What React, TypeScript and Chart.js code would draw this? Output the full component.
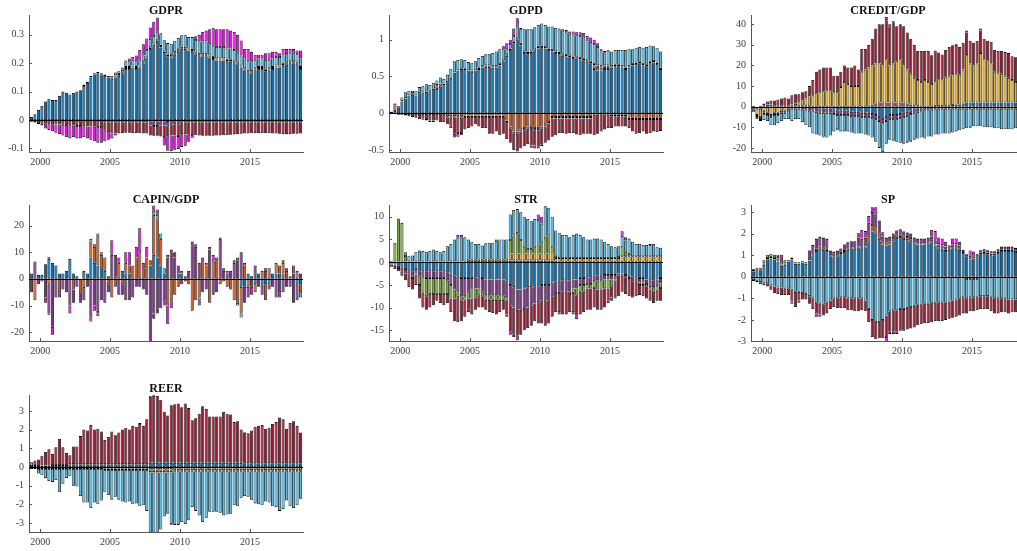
import React, { useEffect, useRef } from "react";
import { Chart, registerables } from "chart.js";

Chart.register(...registerables);

const SERIF = '"Liberation Serif", "Times New Roman", "DejaVu Serif", serif';
const AXIS_GREY = "#555555";
const TICK_TEXT = "#404040";
const SHOCK_COLORS = ["#0072BD", "#D95319", "#EDB120", "#7E2F8E", "#77AC30", "#4DBEEE", "#A2142F", "#FF00FF"];

const FIRST_QUARTER = 1999.375;
const QUARTER_STEP = 0.25;
const N_QUARTERS = 78;
const QUARTER_X = Array.from({ length: N_QUARTERS }, (_, i) => FIRST_QUARTER + QUARTER_STEP * i);
const X_MIN = 1999.2;
const X_MAX = 2018.8;
const YEAR_TICKS = [2000, 2005, 2010, 2015];

// ---------------- GDPR ----------------
const GDPR_TICKS = [-0.1, 0, 0.1, 0.2, 0.3];
const GDPR_C1 = [
  0.01, 0.02, 0.035, 0.05, 0.065, 0.075, 0.07, 0.07, 0.085, 0.1,
  0.095, 0.09, 0.095, 0.1, 0.105, 0.12, 0.13, 0.15, 0.16, 0.165,
  0.16, 0.155, 0.15, 0.145, 0.15, 0.155, 0.165, 0.18, 0.18, 0.185,
  0.18, 0.185, 0.2, 0.22, 0.25, 0.26, 0.275, 0.255, 0.235, 0.225,
  0.22, 0.23, 0.24, 0.25, 0.25, 0.245, 0.24, 0.23, 0.225, 0.225,
  0.225, 0.22, 0.215, 0.21, 0.21, 0.21, 0.205, 0.205, 0.2, 0.195,
  0.185, 0.175, 0.165, 0.165, 0.175, 0.18, 0.18, 0.17, 0.175, 0.18,
  0.185, 0.185, 0.19, 0.195, 0.2, 0.2, 0.195, 0.18];
const GDPR_C2 = [
  0, 0, 0, 0, 0, 0, 0, 0, 0, 0,
  0, 0, 0, 0, 0, 0, 0, 0, 0, 0,
  0, 0, 0, 0, 0.003, 0.003, 0.003, 0.003, 0.003, 0.003,
  0.003, 0.003, 0.003, 0.003, -0.005, -0.006, -0.006, -0.005, -0.005, -0.004,
  0.003, 0.003, 0.003, 0.003, 0.003, 0.003, 0.003, 0.003, 0.003, 0.003,
  0.003, 0.003, 0.003, 0.003, 0.003, 0.003, 0.003, 0.003, 0.003, 0.003,
  0.003, 0.003, 0.003, 0.003, 0.003, 0.003, 0.003, 0.003, 0.003, 0.003,
  0.003, 0.003, 0.003, 0.003, 0.003, 0.003, 0.003, 0.003];
const GDPR_C3 = [
  0, 0, 0, 0, 0, 0, 0, 0, 0, 0,
  0, 0, 0, 0, 0, 0, 0, 0, 0, 0,
  0, 0, 0, 0, 0.004, 0.004, 0.004, 0.004, 0.004, 0.004,
  0.004, 0.004, 0.004, 0.004, 0.006, 0.006, 0.006, 0.006, 0.006, 0.006,
  0.006, 0.006, 0.006, 0.006, 0.006, 0.004, 0.004, 0.004, 0.004, 0.004,
  0.004, 0.004, 0.004, 0.004, 0.004, 0.004, 0.004, 0.004, 0.004, 0.004,
  0.004, 0.004, 0.004, 0.004, 0.004, 0.004, 0.004, 0.004, 0.004, 0.004,
  0.004, 0.004, 0.004, 0.004, 0.004, 0.004, 0.004, 0.004];
const GDPR_C4 = [
  -0.003, -0.003, -0.003, -0.003, -0.003, -0.003, -0.003, -0.003, -0.003, -0.003,
  -0.003, -0.003, -0.003, -0.003, -0.003, -0.003, -0.003, -0.003, -0.003, -0.003,
  -0.003, -0.008, -0.008, -0.008, -0.008, -0.008, -0.008, -0.008, -0.008, -0.008,
  -0.008, -0.008, -0.008, -0.008, -0.015, -0.015, -0.015, -0.015, -0.015, -0.015,
  -0.015, -0.015, -0.015, -0.008, -0.008, -0.008, -0.008, -0.008, -0.008, -0.008,
  -0.008, -0.008, -0.008, -0.008, -0.008, -0.008, -0.008, -0.008, -0.008, -0.008,
  -0.008, -0.008, -0.008, -0.008, -0.008, -0.008, -0.008, -0.008, -0.008, -0.008,
  -0.008, -0.008, -0.008, -0.008, -0.008, -0.008, -0.008, -0.008];
const GDPR_C6 = [
  0, 0, 0, 0, 0, 0, 0, 0, 0, 0,
  0, 0, 0, 0, 0, 0.005, 0.005, 0.005, 0.005, 0.005,
  0.005, 0.005, 0.005, 0.01, 0.01, 0.01, 0.01, 0.02, 0.02, 0.02,
  0.02, 0.02, 0.02, 0.02, 0.03, 0.03, 0.03, 0.04, 0.04, 0.04,
  0.04, 0.04, 0.04, 0.04, 0.04, 0.04, 0.045, 0.045, 0.045, 0.045,
  0.045, 0.04, 0.04, 0.04, 0.04, 0.04, 0.04, 0.04, 0.04, 0.035,
  0.035, 0.035, 0.035, 0.035, 0.03, 0.03, 0.03, 0.03, 0.03, 0.03,
  0.03, 0.03, 0.03, 0.03, 0.03, 0.03, 0.03, 0.03];
const GDPR_C7 = [
  -0.003, -0.005, -0.008, -0.01, -0.01, -0.012, -0.012, -0.013, -0.013, -0.014,
  -0.015, -0.016, -0.017, -0.018, -0.018, -0.019, -0.02, -0.02, -0.021, -0.022,
  -0.022, -0.03, -0.035, -0.04, -0.04, -0.04, -0.038, -0.037, -0.037, -0.038,
  -0.038, -0.039, -0.04, -0.04, -0.035, -0.035, -0.035, -0.038, -0.04, -0.04,
  -0.04, -0.04, -0.042, -0.042, -0.043, -0.044, -0.045, -0.046, -0.047, -0.048,
  -0.048, -0.048, -0.048, -0.047, -0.047, -0.046, -0.045, -0.044, -0.043, -0.042,
  -0.041, -0.04, -0.04, -0.039, -0.038, -0.038, -0.038, -0.038, -0.039, -0.04,
  -0.04, -0.041, -0.042, -0.042, -0.042, -0.041, -0.041, -0.04];
const GDPR_C8 = [
  0, -0.002, -0.004, -0.007, -0.017, -0.02, -0.025, -0.029, -0.034, -0.038,
  -0.042, -0.046, -0.04, -0.044, -0.044, -0.038, -0.042, -0.047, -0.051, -0.055,
  -0.055, -0.037, -0.027, -0.017, -0.007, 0, 0.003, 0.003, 0.01, 0.01,
  0.02, 0.035, 0.04, 0.04, 0.04, 0.05, 0.05, 0.005, -0.03, -0.05,
  -0.055, -0.05, -0.045, -0.045, -0.04, -0.025, -0.01, 0.013, 0.023, 0.033,
  0.038, 0.053, 0.063, 0.063, 0.063, 0.063, 0.068, 0.063, 0.063, 0.063,
  0.053, 0.033, 0.043, 0.033, 0.018, 0.013, 0.013, 0.028, 0.023, 0.023,
  0.018, 0.013, 0.023, 0.018, 0.013, 0.013, 0.013, 0.028];

// ---------------- GDPD ----------------
const GDPD_TICKS = [-0.5, 0, 0.5, 1];
const GDPD_C1 = [
  0.02, 0.03, 0.08, 0.16, 0.2, 0.24, 0.25, 0.24, 0.27, 0.28,
  0.29, 0.3, 0.33, 0.33, 0.36, 0.38, 0.42, 0.48, 0.55, 0.58,
  0.6, 0.6, 0.58, 0.56, 0.58, 0.6, 0.62, 0.63, 0.63, 0.62,
  0.62, 0.65, 0.7, 0.78, 0.86, 0.95, 1.0, 0.92, 0.82, 0.8,
  0.82, 0.85, 0.88, 0.9, 0.88, 0.86, 0.84, 0.82, 0.8, 0.78,
  0.77, 0.76, 0.75, 0.74, 0.73, 0.72, 0.7, 0.68, 0.6, 0.58,
  0.58, 0.6, 0.6, 0.62, 0.64, 0.64, 0.62, 0.6, 0.62, 0.65,
  0.67, 0.68, 0.65, 0.64, 0.68, 0.69, 0.67, 0.6];
const GDPD_C2 = [
  0, 0.1, 0, 0, 0, 0, 0.02, 0, 0, 0,
  0, 0, 0, 0.05, 0.04, 0, -0.04, -0.04, -0.04, -0.04,
  -0.04, -0.03, -0.03, -0.03, -0.03, -0.03, -0.03, -0.03, -0.03, -0.03,
  -0.03, -0.03, -0.03, -0.1, -0.18, -0.25, -0.25, -0.22, -0.2, -0.18,
  -0.17, -0.2, -0.2, -0.18, -0.15, -0.12, -0.05, -0.05, -0.05, -0.05,
  -0.05, -0.05, -0.05, -0.05, -0.05, -0.05, -0.05, -0.05, 0.05, 0.05,
  0.04, 0.03, 0.03, -0.02, -0.02, -0.02, -0.02, -0.02, -0.06, -0.06,
  -0.06, -0.06, -0.06, -0.06, -0.06, -0.06, -0.06, -0.06];
const GDPD_C3 = [
  0.005, 0.005, 0.005, 0.005, 0.005, 0.005, 0.005, 0.005, 0.005, 0.005,
  0.005, 0.005, 0.005, 0.005, 0.005, 0.005, 0.005, 0.005, 0.005, 0.005,
  0.005, 0.005, 0.005, 0.005, 0.005, 0.02, 0.02, 0.02, 0.02, 0.02,
  0.02, 0.02, 0.02, 0.02, 0.02, 0.02, 0.02, 0.02, 0.02, 0.02,
  0.02, 0.02, 0.02, 0.02, 0.02, 0.02, 0.02, 0.02, 0.02, 0.02,
  0.02, 0.02, 0.02, 0.02, 0.02, 0.02, 0.02, 0.02, 0.02, 0.02,
  0.02, 0.02, 0.02, 0.02, 0.02, 0.02, 0.02, 0.02, 0.02, 0.02,
  0.02, 0.02, 0.02, 0.02, 0.02, 0.02, 0.02, 0.02];
const GDPD_C4 = [
  -0.01, -0.01, -0.01, -0.01, -0.01, -0.01, -0.01, -0.01, -0.01, -0.01,
  -0.01, -0.01, -0.01, -0.01, -0.01, -0.01, -0.02, -0.02, -0.02, -0.02,
  -0.02, -0.02, -0.02, -0.02, -0.02, -0.02, -0.02, -0.02, -0.02, -0.02,
  -0.02, -0.02, -0.02, -0.02, -0.03, -0.03, -0.03, -0.03, -0.03, -0.03,
  -0.03, -0.03, -0.03, -0.03, -0.03, -0.02, -0.02, -0.02, -0.02, -0.02,
  -0.02, -0.02, -0.02, -0.02, -0.02, -0.02, -0.02, -0.02, -0.02, -0.02,
  -0.02, -0.02, -0.02, -0.02, -0.02, -0.02, -0.02, -0.02, -0.02, -0.02,
  -0.02, -0.02, -0.02, -0.02, -0.02, -0.02, -0.02, -0.02];
const GDPD_C6 = [
  0, 0, 0.01, 0.05, 0.08, 0.06, 0.03, 0.06, 0.08, 0.08,
  0.1, 0.08, 0.08, 0.06, 0.08, 0.08, 0.1, 0.12, 0.15, 0.14,
  0.13, 0.12, 0.11, 0.12, 0.12, 0.13, 0.14, 0.15, 0.16, 0.18,
  0.2, 0.2, 0.15, 0.07, 0.06, 0.08, 0.17, 0.2, 0.3, 0.32,
  0.3, 0.3, 0.3, 0.3, 0.3, 0.3, 0.32, 0.32, 0.32, 0.32,
  0.31, 0.3, 0.3, 0.3, 0.3, 0.3, 0.28, 0.27, 0.27, 0.25,
  0.2, 0.18, 0.2, 0.2, 0.2, 0.2, 0.22, 0.24, 0.23, 0.2,
  0.2, 0.2, 0.22, 0.24, 0.22, 0.2, 0.2, 0.22];
const GDPD_C7 = [
  0, 0, -0.01, -0.01, -0.02, -0.03, -0.04, -0.05, -0.07, -0.06,
  -0.07, -0.09, -0.09, -0.09, -0.11, -0.11, -0.09, -0.11, -0.22, -0.21,
  -0.21, -0.17, -0.15, -0.13, -0.1, -0.13, -0.15, -0.15, -0.23, -0.23,
  -0.2, -0.25, -0.23, -0.23, -0.19, -0.22, -0.24, -0.23, -0.22, -0.21,
  -0.24, -0.21, -0.22, -0.22, -0.22, -0.23, -0.25, -0.23, -0.2, -0.2,
  -0.21, -0.2, -0.2, -0.22, -0.23, -0.21, -0.21, -0.21, -0.28, -0.26,
  -0.23, -0.2, -0.18, -0.16, -0.14, -0.14, -0.14, -0.14, -0.12, -0.17,
  -0.2, -0.19, -0.17, -0.2, -0.19, -0.17, -0.18, -0.16];
const GDPD_C8 = [
  0, 0, 0, 0, 0, 0, 0, 0, 0, -0.02,
  -0.02, -0.02, -0.02, 0, 0, 0, 0, -0.03, -0.05, -0.05,
  -0.03, 0, 0, 0, 0, 0, 0, 0, 0, 0,
  0, 0, 0.04, 0.08, 0.06, 0.1, 0.1, 0.02, 0, 0,
  -0.03, -0.04, -0.03, -0.02, 0, 0, 0, 0, 0.01, 0.02,
  0.03, 0.03, 0.04, 0.04, 0.05, 0.05, 0.05, 0.06, 0.06, 0.05,
  0.03, 0.02, 0.01, 0, 0, 0, 0, 0, 0, 0,
  0, 0, 0, 0, 0, 0, 0, 0];

// ---------------- CREDIT/GDP ----------------
const CREDIT_TICKS = [-20, -10, 0, 10, 20, 30, 40];
const CREDIT_C1 = [
  0.5, -1, -1, 0.5, 1, 1, 0.5, 0.5, 0.5, 0.5,
  0.5, 0.5, 0.5, 0.5, 0.5, 0.5, 0.5, 0, -0.5, -1,
  -1, -1, -1, -1.5, -2, -2, -2, -2, -2.5, -2.5,
  -2.5, -3, -3, -3, -3.5, -4, -5, -6, -5, -4,
  -4, -4, -3.5, -3, -2.5, -2, -1.5, -1, -1, -0.5,
  -0.5, -0.5, 0.3, 0.3, 0.3, 0.5, 0.5, 0.8, 1, 1,
  1.5, 2, 2, 2, 2, 2, 2, 2, 2, 2,
  2, 2, 2, 2, 2, 2, 2, 2];
const CREDIT_C2 = [
  0, 0, 0, 0, 0, 0, 0, 0, 0, 0,
  0, 0, 0, 0, 0, 0, 0, 0, 0, 0,
  0, 0, 0, 0, 0, 0, 0, 0, 0, 0,
  0, 0, 0, 0, 1, 1.5, 2, 2, 2, 2,
  2, 2, 2, 2, 1.5, 1, 0.5, 0.5, 0, 0,
  0, 0, 0, 0, 0, 0, 0, 0, 0, 0,
  0, 0, 0, 0, 0, 0, 0, 0, 0, 0,
  0, 0, 0, 0, 0, 0, 0, 0];
const CREDIT_C3 = [
  -1, -3, -4, -2, -3, -4, -3, -3, -2, -2,
  -1, 0.5, 1, 1.5, 2.5, 3.5, 4.5, 5.5, 6.5, 7,
  7.5, 8, 8, 7, 7, 9.5, 12, 11, 10, 10,
  10, 17, 18, 19, 19, 19.5, 19, 18, 21, 18,
  19, 20, 21, 18, 16.5, 15, 13.5, 12.5, 12, 13,
  12, 11, 12, 13, 13, 14, 14.5, 15, 15, 14.5,
  16.5, 23, 19, 18, 19, 24, 21, 20.5, 19, 15,
  14.5, 14, 13, 12, 11, 10, 11, 12];
const CREDIT_C4 = [
  -0.5, -0.5, -1, -1, -1, -1, -1, -1, -1, -1,
  -1, -1, -1, -1, -1.5, -1.5, -2, -2, -2, -2,
  -2, -2, -2, -2, -2, -2, -2, -2, -2, -2,
  -2, -2, -2, -2, -2, -2, -2, -2, -2, -2,
  -2, -2, -2, -2, -2, -1.5, -1.5, -1.5, -1, -1,
  -1, -1, -1, -1, -1, -1, -1, -1, -1, -1,
  -1, -1, -1, -1, -1, -1, -1, -1, -1, -1,
  -1, -1, -1, -1, -1, -1, -1, -1];
const CREDIT_C5 = [
  0, -0.5, -0.5, -0.5, 0, 0, 0, 0, 0, 0,
  0, 0, 0, 0, 0, 0, 0, 0, 0, 0,
  0, 0, 0, 0, 0, 0, 0, 0, 0, 0,
  0, 0, 0, 0, 0, 0, 0, 0, 0, 0,
  0, 0, 0, 0, 0, 0, 0, 0, 0, 0,
  0, 0, 0, 0, 0, 0, 0, 0, 0, 0,
  0, 0, 0, 0, 0, 0, 0, 0, 0, 0,
  0, 0, 0, 0, 0, 0, 0, 0];
const CREDIT_C6 = [
  -1, -1, -0.5, -3, -3, -4, -5, -4, -4, -3,
  -4, -6, -5, -5, -6, -7.5, -8, -11, -11, -11,
  -11.5, -12, -11, -8.5, -7, -8, -8, -8, -8, -8.5,
  -8.5, -8, -8.5, -9, -9.5, -11, -13, -14, -11, -10,
  -10.5, -11, -12, -13, -12.5, -13, -13, -13, -13, -13.5,
  -13, -13, -12.5, -12.5, -12, -12, -12, -11.5, -11, -10.5,
  -10, -9.5, -9, -8.5, -8.5, -8.5, -9, -9, -9, -9.5,
  -9.5, -10, -10, -10, -10, -9.5, -9, -9];
const CREDIT_C7 = [
  0, 0, 0.5, 1, 1.5, 2, 2.5, 3, 3.5, 4,
  3.5, 4.5, 4.5, 4, 4, 3.5, 5, 7.5, 10.5, 11,
  11.5, 11, 11, 8, 8, 7.5, 8, 8, 9, 10,
  8, 11, 10, 11, 13, 17, 19, 20, 19, 19,
  20, 17, 17, 19, 18, 17, 16, 14, 15, 14,
  15, 14, 15, 13, 12, 13, 14, 14, 14, 13.5,
  13, 11, 11, 11, 11, 11, 10, 9.5, 10.5, 10.5,
  10.5, 11, 11.5, 12, 11.5, 12, 11, 10];
const CREDIT_C8 = [
  0, 0, 0, 0, 0, 0, 0, 0, 0, 0,
  0, 0, 0, 0, 0, 0, 0, 0, 0, 0,
  -0.5, 0, 0, 0, -0.5, 0, 0, 0, 0, 0,
  0, 0, 0, 0, 0, 0, 0, 0, 1.5, 1,
  0.5, 0, 0, 0, -0.5, -0.5, 0, 0, 0, -0.5,
  0, 0, 0, 0, 0, 0, 0, 0, 0.5, 0,
  0, 1, -0.5, 0, 0, 1, 0, 0, 0, 0,
  0, 0, 0, 0, 0, 0, 0, 0];

// ---------------- CAPIN/GDP ----------------
const CAPIN_TICKS = [-20, -10, 0, 10, 20];
const CAPIN_C1 = [
  2, 0, 1.5, 1.5, 5.5, 7.5, 6, 5, 2, 2,
  3, 7.5, 2, 1, 0, 3, 2, 8, 6, 5,
  4, 3, 1, 0, 1, 0, 3, 2, 2, 0,
  0, 0, 0, 0, 5, 9, 8, 5, 2, 0,
  0, 0, 2, 2, 1, 0, 0, 0, 0, 0,
  0, 0, 0, 0, 0, 0, 0, 0, 0, 0,
  -3, -3, 2, 1, -2, 2, -2, -2, -2, 2,
  2, 2, 2, 0, 1, 2, -2, -2];
const CAPIN_C2 = [
  0, -8, 0, 0, 0, -2, 0, 0, -5, 0,
  0, 0, -4, 0, -5, -3, 0, 6, 6, 11,
  5, 5, -2, -7, -3, 6, -2, 4, 3, 5,
  8, 10, 4, 8, 2, 15, 14, 10, 0, -10,
  -8, -6, -3, 1, 0, -2, -12, -8, -7, 7,
  5, -9, 7, 7, -2, -1, -3, -4, -8, -9,
  -10, 5, -3, 0, -3, 0, 3, -6, 4, 0,
  4, 3, 4, 3, 0, 3, 2, -3];
const CAPIN_C4 = [
  -5, 6.5, -2, -1, -7, -11, -18, -7, 0, -4,
  -5, -10, -5, -3, -4, -5, -3, -14, -10, -12,
  -8, -9, -3, 9, 8, -6, -4, -8, -8, -7,
  -3, -3, -4, -6, -24, -13, -11, -11, -8, 8,
  10, 8, 3, -2, -1, 3, 13, 12, 6, -5,
  -4, 11, -6, -5, 15, 3, 2, 3, 6, 7,
  10, -6, -4, -3, 4, -3, -4, 3, -2, -3,
  -7, -5, -5, -3, -3, -9, -6, 2];
const CAPIN_C6 = [
  0, 0, 0, 0, 0, 0.8, 0, 0, 0, 0,
  0, 0, 0, 0, 0, 0, 0, 1, 1, 1,
  0.5, 0, 0, 0, 0, 0, 0, 0, 0, 0,
  0, 0, 0, 0, 0, 1.5, 2, 2, 2, 0,
  0, 0, 0, 0, 0, 0, 0, 0, -1, 0,
  0, 0, 0, 0, 0, 0, 0, 0, 0, -1,
  -1.5, 0, 0, 0, 0, 0, 0, 0, 0, 0,
  0, 0, 0, 0, 0, 0, 0, -2];
const CAPIN_C7 = [
  0, 0, 0, 0, 0, -0.5, 0, 0, 0, 0,
  0, 0, 0, 0, 0, 0, 0, 0, 0, -1,
  0, 0, 0, 0, 0, 0, 0, 0, 0, 0,
  0, 0, 0, 0, 0, -2, -2, 0, 0, 1,
  1, 2, 0, 0, 0, 0, 1, 0, 0, 0,
  0, 1, 0, 0, 0.5, 0, 0, 0, 0, 0,
  0, 0, 0, 0, 0, 0, 0, 0, 0, 0,
  0, 0, 0, 0, 0, 0, 0, 0];
const CAPIN_C8 = [
  0, 0, 0, 0, -2, 0, -3, 0, -2, 0,
  0, -3, 0, 0, 0, 0, 0, -2, -2, -1,
  0.5, 0, 0, 5.5, 0, 2, 0, 4, 5, 0,
  4, 9, 2, 4, 0, 2, 2, 0, -2, -7,
  -3, 0, 0, 0, 0, 0, 0, 1, -2, 1,
  1, 0, 2, 1, 0, 1, 1, 0, 1, 1,
  0, 1, 0, -3, 1, 0, 0, 1, 0, 0,
  0, -2, 1, 1, 0, 0, 1, 0];

// ---------------- STR ----------------
const STR_TICKS = [-15, -10, -5, 0, 5, 10];
const STR_C1 = [
  -0.3, -0.5, -0.8, -1.2, -1.5, -2, -2, -1.5, -2, -2,
  -2, -2, -2, -2, -2, -2, -2.2, -2.5, -3, -3.2,
  -3.5, -3.5, -3.5, -3.5, -3.3, -3.3, -3.5, -3.8, -3.8, -3.8,
  -3.8, -3.8, -3.8, -4, -5, -5.5, -6, -6, -5.8, -5.5,
  -5.5, -5.3, -5.3, -5, -5, -5, -4.5, -4.3, -4.3, -4,
  -4, -4, -3.8, -3.8, -3.5, -3.5, -3.3, -3.3, -3.2, -3,
  -3, -2.8, -2.8, -2.8, -2.8, -2.5, -2.5, -2.8, -3, -3.2,
  -3.3, -3.5, -3.5, -3.8, -4, -4, -3.8, -3.5];
const STR_C2 = [
  0.05, 0.05, 0.05, 0.05, 0.05, 0.05, 0.05, 0.05, 0.05, 0.05,
  0.05, 0.05, 0.05, 0.05, 0.05, 0.05, 0.05, 0.05, 0.05, 0.05,
  0.05, 0.05, 0.05, 0.05, 0.05, 0.05, 0.05, 0.05, 0.05, 0.05,
  0.05, 0.05, 0.05, 0.05, 0.4, 0.4, 0.4, 0.4, 0.4, 0.4,
  0.4, 0.4, 0.4, 0.4, 0.4, 0.4, 0.4, 0.1, 0.1, 0.1,
  0.1, 0.1, 0.1, 0.1, 0.1, 0.1, 0.1, 0.1, 0.1, 0.1,
  0.1, 0.1, 0.1, 0.1, 0.1, 0.1, 0.1, 0.1, 0.1, 0.1,
  0.1, 0.1, 0.1, 0.1, 0.1, 0.1, 0.1, 0.1];
const STR_C3 = [
  0.1, 0.1, 0.1, 0.1, 0.1, 0.1, 0.1, 0.1, 0.1, 0.1,
  0.1, 0.1, 0.1, 0.1, 0.1, 0.1, 0.1, 0.1, 0.1, 0.1,
  0.1, 0.1, 0.5, 0.5, 0.5, 0.5, 0.5, 0.5, 0.5, 0.5,
  0.5, 0.5, 0.5, 0.5, 1.5, 1.5, 1.5, 1.5, 1.5, 1.5,
  1.5, 1.5, 1.5, 1.5, 1.5, 1.5, 1.5, 0.8, 0.8, 0.8,
  0.8, 0.8, 0.8, 0.8, 0.8, 0.8, 0.8, 0.8, 0.8, 0.8,
  0.8, 0.8, 0.8, 0.8, 0.8, 0.8, 1.2, 1.2, 1.2, 1.2,
  1.2, 1.2, 1.2, 1.2, 1.2, 1.2, 1.2, 1.2];
const STR_C4 = [
  -0.2, -0.3, -0.5, -0.8, -1, -1, -1, -1, -1, -1.2,
  -1.5, -1.5, -1.5, -1.5, -1.5, -1.5, -1.8, -2.5, -3, -3.5,
  -4, -4, -3, -2.5, -2.5, -2.5, -3, -3.5, -3.5, -3.5,
  -3.5, -3.5, -3.5, -4, -4.5, -4.5, -4.5, -4.5, -4.5, -4.5,
  -4, -3.8, -3.5, -3.5, -3.5, -3.5, -3, -2.5, -2.5, -2.5,
  -2.5, -2.5, -2, -2, -1.5, -1.5, -1.5, -1.5, -1, -1,
  -1, -1, -1, -1, -1, -0.5, -0.5, -0.5, -0.5, -1,
  -1, -1, -1, -1, -1.5, -1.5, -1.5, -1.2];
const STR_C5 = [
  0, 4, 9.3, 8.5, 1.2, 0, -0.5, -0.5, -2, -3.5,
  -4, -3.5, -3.5, -3.5, -3.5, -3.5, -3, -3, -2, -1,
  -1, -1, -1.5, -2, -2, -1.5, -1, -1, -1, -1,
  -1, -1, -1, -0.5, 3, 4, 4.5, 3, 1.5, 1,
  1, 1.5, 2, 2.5, 3.5, 4, 1.5, 0.5, 0, 0,
  0, -0.5, -1, -1.5, -1.5, -1.5, -1, -1, -1.5, -2,
  -2, -2, -2, -1.5, -0.5, 0.5, 2, 1, 0.5, 0,
  0, -0.5, -0.5, -0.5, -0.5, -1, -1, -1];
const STR_C6 = [
  0.15, 0.15, 0.15, 0.05, 0.85, 1.15, 1.35, 2.05, 2.15, 2.35,
  2.15, 2.35, 2.65, 2.35, 1.75, 2.35, 3.35, 3.85, 4.85, 5.25,
  5.35, 5.35, 4.45, 3.95, 3.45, 3.45, 3.15, 3.65, 3.75, 3.75,
  4.15, 4.45, 4.45, 4.45, 5.6, 5.6, 5.3, 6.1, 6.6, 6.6,
  6.1, 6.1, 5.4, 4.1, 6.9, 6.1, 6.6, 5.6, 5.6, 5.1,
  5.1, 4.6, 5.1, 5.4, 5.1, 4.6, 4.1, 4.1, 4.3, 4.3,
  4.1, 3.6, 3.1, 2.6, 2.4, 2.1, 2.5, 2.5, 3.4, 3.2,
  2.7, 2.7, 2.5, 2.5, 2.5, 2.7, 2.0, 1.9];
const STR_C7 = [
  -0.5, -0.7, -0.7, -1, -1.5, -2.5, -2.5, -2, -3, -3.3,
  -3, -3, -2.5, -1.5, -2, -2.5, -2, -3, -5, -5.5,
  -4.5, -3.5, -2.5, -3.5, -2.7, -2.7, -2.5, -2.2, -2.7, -2.9,
  -3.2, -2.7, -2.2, -3, -5.7, -6, -5.7, -5.5, -4.7, -4.5,
  -4.5, -3.9, -4.7, -5, -5.5, -5, -4.5, -4.2, -4.2, -5,
  -5, -4, -4.2, -4.4, -5, -4.5, -4.7, -4.7, -4.3, -4.5,
  -4.5, -4.2, -2.7, -2.5, -3.7, -4.5, -3.5, -3.7, -4, -3.6,
  -3.2, -2.2, -2.5, -2.7, -2.5, -2.5, -2.2, -2.8];
const STR_C8 = [
  0, 0, 0, 0, 0, 0, 0, 0, 0.3, 0,
  0, 0, 0, 0, 0.3, 0, 0, 0, 0, 0.6,
  0.5, 0, -0.5, 0, 0, 0, 0, 0, 0, 0,
  0.3, 0, 0, -0.5, -0.8, -0.5, -1, 0, 0, 0,
  0, 0, 1.2, 1.5, 0, 0, 0, 0, -0.5, 0,
  0, 0, -0.5, -0.8, 0, 0, 0, 0, 0, 0,
  0, 0, -0.5, -0.7, 0, 0, 1, 0.7, 0, 0,
  0, 0, 0, 0, 0.2, 0, 0, 0];

// ---------------- SP ----------------
const SP_TICKS = [-3, -2, -1, 0, 1, 2, 3];
const SP_C1 = [
  0.25, 0.3, 0.3, 0.55, 0.8, 0.85, 0.8, 0.7, 0.5, 0.55,
  0.7, 0.8, 0.6, 0.6, 0.65, 0.6, 0.75, 1.0, 1.2, 1.3,
  1.25, 1.2, 0.95, 0.9, 0.95, 1.05, 1.15, 1.25, 1.3, 1.3,
  1.35, 1.3, 1.35, 1.6, 2.1, 2.0, 1.7, 1.5, 1.45, 1.5,
  1.65, 1.8, 1.85, 1.75, 1.7, 1.65, 1.55, 1.5, 1.5, 1.5,
  1.55, 1.6, 1.45, 1.3, 1.25, 1.2, 1.25, 1.3, 1.3, 1.25,
  1.1, 0.95, 0.8, 0.85, 0.95, 1.05, 1.1, 1.05, 1.0, 1.0,
  1.1, 1.2, 1.2, 1.2, 1.2, 1.15, 1.1, 1.15];
const SP_C2 = [
  0.02, 0.02, 0.02, 0.02, 0.02, 0.02, 0.02, 0.02, 0.02, 0.02,
  0.02, 0.02, 0.02, 0.02, 0.02, 0.02, 0.02, 0.02, 0.1, 0.1,
  0.1, 0.1, 0.05, 0.05, 0.05, 0.05, 0.05, 0.05, 0.05, 0.05,
  0.05, 0.05, 0.05, 0.3, 0.3, 0.3, 0.3, 0.15, 0.15, 0.15,
  0.15, 0.15, 0.15, 0.15, 0.15, 0.15, 0.05, 0.05, 0.05, 0.05,
  0.05, 0.05, 0.05, 0.05, 0.05, 0.05, 0.05, 0.05, 0.05, 0.05,
  0.05, -0.1, -0.1, -0.1, -0.1, 0.08, 0.08, 0.08, 0.08, 0.08,
  0.08, 0.08, 0.08, 0.08, 0.08, 0.08, 0.08, 0.08];
const SP_C4 = [
  0.05, 0.05, 0.05, 0.05, 0.05, 0.05, 0.05, 0.05, 0.05, 0.05,
  0.05, 0.05, 0.05, 0.05, 0.05, 0.05, 0.45, 0.45, 0.45, 0.45,
  0.45, 0.45, 0.2, 0.2, 0.2, 0.2, 0.3, 0.3, 0.3, 0.3,
  0.4, 0.4, 0.4, 0.6, 0.6, 0.6, 0.6, 0.2, 0.2, 0.2,
  0.2, 0.2, 0.2, 0.2, 0.2, 0.2, 0.2, 0.2, 0.2, 0.2,
  0.2, 0.2, 0.2, 0.15, 0.15, 0.15, 0.15, 0.15, 0.15, 0.15,
  0.1, 0.1, 0.1, 0.1, 0.1, 0.1, 0.1, 0.1, 0.1, 0.1,
  0.1, 0.1, 0.1, 0.1, 0.1, 0.1, 0.1, 0.1];
const SP_C5 = [
  0.05, 0.05, 0.05, 0.15, 0.15, 0.15, 0.15, 0.15, 0.15, 0.15,
  0.02, 0.02, 0.02, 0.02, 0.02, 0.02, 0.02, 0.02, 0.02, 0.02,
  0.02, 0.02, 0.02, 0.02, 0.02, 0.02, 0.02, 0.02, 0.02, 0.02,
  0.02, 0.02, 0.02, 0.02, 0.02, 0.02, 0.02, 0.02, 0.02, 0.02,
  0.02, 0.02, 0.02, 0.02, 0.02, 0.02, 0.02, 0.02, 0.02, 0.02,
  0.02, 0.02, 0.02, 0.02, 0.02, 0.02, 0.02, 0.02, 0.02, 0.02,
  0.02, 0.02, 0.02, 0.02, 0.02, 0.02, 0.02, 0.02, 0.02, 0.02,
  0.02, 0.02, 0.02, 0.02, 0.02, 0.02, 0.02, 0.02];
const SP_C6 = [
  -0.15, -0.2, -0.25, -0.3, -0.3, -0.4, -0.45, -0.5, -0.5, -0.55,
  -0.55, -0.6, -0.7, -0.7, -0.75, -0.8, -0.9, -1.0, -1.2, -1.25,
  -1.3, -1.2, -1.1, -1.0, -1.0, -0.95, -0.95, -1.0, -1.0, -1.0,
  -1.0, -1.0, -1.1, -1.5, -2.0, -2.1, -2.1, -2.0, -1.8, -1.6,
  -1.55, -1.55, -1.5, -1.5, -1.45, -1.4, -1.35, -1.3, -1.3, -1.25,
  -1.25, -1.2, -1.2, -1.2, -1.2, -1.2, -1.15, -1.1, -1.05, -1.0,
  -0.95, -0.9, -0.85, -0.85, -0.85, -0.9, -0.9, -0.9, -0.95, -1.0,
  -1.0, -1.0, -1.0, -1.05, -1.05, -1.05, -1.0, -1.0];
const SP_C7 = [
  -0.05, -0.05, -0.1, -0.1, -0.15, -0.2, -0.3, -0.3, -0.35, -0.3,
  -0.3, -0.55, -0.7, -0.4, -0.3, -0.25, -0.35, -0.5, -0.5, -0.5,
  -0.5, -0.5, -0.4, -0.4, -0.45, -0.5, -0.5, -0.55, -0.55, -0.6,
  -0.6, -0.55, -0.5, -0.6, -0.8, -0.8, -0.75, -0.85, -1.0, -0.95,
  -1.0, -1.0, -1.0, -1.0, -1.0, -1.0, -1.0, -0.95, -0.9, -0.9,
  -0.9, -0.9, -0.85, -0.85, -0.85, -0.8, -0.8, -0.8, -0.8, -0.8,
  -0.75, -0.7, -0.65, -0.65, -0.6, -0.6, -0.6, -0.6, -0.65, -0.7,
  -0.7, -0.65, -0.65, -0.65, -0.6, -0.6, -0.6, -0.6];
const SP_C8 = [
  0, 0, 0, 0, 0, 0, 0, 0.1, 0.3, 0,
  0, -0.1, 0, -0.1, 0, 0, 0, 0, -0.15, -0.1,
  0, 0, 0, 0, 0, 0, 0, 0, 0, 0,
  0.2, 0.4, 0.3, 0.3, 0.2, 0.3, 0, 0.2, -0.2, -0.1,
  -0.1, -0.1, 0, 0, 0, 0, 0, 0, 0, 0,
  0, 0.3, 0.4, 0.3, 0.3, 0.2, 0, 0.25, 0.25, 0.15,
  0, 0, 0.3, 0.2, 0, 0, 0, 0, 0, 0,
  0, 0, 0, 0, 0, 0, 0, 0];

// ---------------- REER ----------------
const REER_TICKS = [-3, -2, -1, 0, 1, 2, 3];
const REER_C1 = [
  0.05, 0.05, 0.05, 0.08, 0.08, 0.08, 0.1, 0.1, 0.1, 0.1,
  0.1, 0.15, 0.15, 0.15, 0.15, 0.15, 0.15, 0.15, 0.15, 0.15,
  0.15, 0.15, 0.15, 0.15, 0.15, 0.15, 0.15, 0.15, 0.15, 0.15,
  0.15, 0.15, 0.15, 0.15, 0.22, 0.22, 0.22, 0.22, 0.22, 0.22,
  0.22, 0.22, 0.22, 0.22, 0.22, 0.22, 0.22, 0.22, 0.22, 0.22,
  0.22, 0.22, 0.22, 0.22, 0.22, 0.22, 0.22, 0.22, 0.22, 0.22,
  0.22, 0.2, 0.2, 0.2, 0.2, 0.2, 0.2, 0.2, 0.2, 0.2,
  0.2, 0.2, 0.2, 0.2, 0.2, 0.2, 0.2, 0.2];
const REER_C2 = [
  -0.02, -0.02, -0.02, -0.02, -0.02, -0.02, -0.02, -0.02, -0.02, -0.02,
  -0.02, -0.02, -0.02, -0.02, -0.02, -0.02, -0.02, -0.02, -0.02, -0.02,
  -0.02, -0.02, -0.02, -0.02, -0.02, -0.02, -0.02, -0.02, -0.02, -0.02,
  -0.02, -0.02, -0.02, -0.02, -0.05, -0.05, -0.05, -0.05, -0.05, -0.05,
  -0.05, -0.02, -0.02, -0.02, -0.02, -0.02, -0.02, -0.02, -0.02, -0.02,
  -0.02, -0.02, -0.02, -0.02, -0.02, -0.02, -0.02, -0.02, -0.02, -0.02,
  -0.02, -0.02, -0.02, -0.02, -0.02, -0.02, -0.02, -0.02, -0.02, -0.02,
  -0.02, -0.02, -0.02, -0.02, -0.02, -0.02, -0.02, -0.02];
const REER_C3 = [
  -0.03, -0.03, -0.03, -0.03, -0.03, -0.03, -0.03, -0.03, -0.03, -0.03,
  -0.03, -0.03, -0.03, -0.03, -0.03, -0.03, -0.03, -0.03, -0.03, -0.03,
  -0.03, -0.08, -0.08, -0.08, -0.08, -0.08, -0.08, -0.08, -0.08, -0.08,
  -0.08, -0.08, -0.08, -0.08, -0.15, -0.15, -0.15, -0.15, -0.15, -0.15,
  -0.15, -0.15, -0.15, -0.15, -0.15, -0.15, -0.15, -0.15, -0.15, -0.15,
  -0.15, -0.15, -0.15, -0.15, -0.15, -0.15, -0.15, -0.15, -0.15, -0.15,
  -0.15, -0.15, -0.15, -0.15, -0.15, -0.15, -0.15, -0.15, -0.15, -0.15,
  -0.15, -0.15, -0.15, -0.15, -0.15, -0.15, -0.15, -0.15];
const REER_C4 = [
  -0.06, -0.06, -0.06, -0.06, -0.06, -0.06, -0.06, -0.06, -0.06, -0.06,
  -0.06, -0.06, -0.06, -0.06, -0.06, -0.06, -0.06, -0.06, -0.06, -0.06,
  -0.06, -0.06, -0.06, -0.06, -0.06, -0.06, -0.06, -0.06, -0.06, -0.06,
  -0.06, -0.06, -0.06, -0.06, -0.1, -0.1, -0.1, -0.1, -0.1, -0.1,
  -0.1, -0.06, -0.06, -0.06, -0.06, -0.06, -0.06, -0.06, -0.06, -0.06,
  -0.06, -0.06, -0.06, -0.06, -0.06, -0.06, -0.06, -0.06, -0.06, -0.06,
  -0.06, -0.06, -0.06, -0.06, -0.06, -0.06, -0.06, -0.06, -0.06, -0.06,
  -0.06, -0.06, -0.06, -0.06, -0.06, -0.06, -0.06, -0.06];
const REER_C6 = [
  0.2, 0.05, -0.24, -0.34, -0.49, -0.64, -0.69, -0.59, -1.24, -0.79,
  -0.49, -0.39, -0.89, -0.94, -1.44, -1.79, -1.79, -2.09, -1.79, -1.89,
  -1.69, -1.19, -1.34, -1.59, -1.44, -1.59, -1.69, -1.74, -1.69, -1.84,
  -1.79, -1.94, -1.89, -2.19, -3.2, -3.25, -3.25, -3.05, -2.35, -2.2,
  -2.75, -2.87, -2.87, -2.72, -2.82, -2.62, -1.92, -2.12, -2.37, -2.72,
  -2.52, -2.17, -2.17, -2.17, -2.22, -2.37, -2.32, -2.27, -1.82, -1.87,
  -1.42, -1.32, -1.37, -1.52, -1.72, -1.77, -1.82, -1.62, -1.67, -1.87,
  -1.92, -2.12, -2.02, -1.57, -1.87, -1.97, -1.82, -1.47];
const REER_C7 = [
  0, 0.25, 0.35, 0.52, 0.72, 0.87, 0.6, 0.95, 1.4, 0.95,
  0.65, 0.47, 0.95, 0.95, 1.5, 1.85, 1.8, 2.1, 1.85, 1.9,
  1.75, 1.3, 1.45, 1.75, 1.55, 1.7, 1.85, 1.95, 1.85, 2.05,
  2.0, 2.15, 2.05, 2.4, 3.53, 3.58, 3.58, 3.38, 2.73, 2.53,
  3.08, 3.13, 3.18, 2.98, 3.18, 2.93, 2.28, 2.38, 2.63, 3.03,
  2.88, 2.48, 2.48, 2.48, 2.48, 2.73, 2.63, 2.58, 2.18, 2.23,
  1.78, 1.65, 1.6, 1.75, 1.95, 2.0, 2.05, 1.85, 1.9, 2.1,
  2.2, 2.45, 2.35, 1.85, 2.15, 2.25, 2.0, 1.65];
const REER_C8 = [
  0, 0, 0, 0, 0, 0, 0, 0, 0, 0,
  0, 0, 0, 0, 0, 0, 0, 0, 0, 0,
  0, 0, 0, 0, 0, 0, 0, 0, 0, 0,
  0, 0.05, 0, 0, 0.04, 0.04, 0, 0, 0, 0,
  -0.04, 0, 0, 0, 0, 0, 0, 0, 0, 0,
  0, 0, 0, 0, 0, 0, 0, 0, 0, 0,
  0, 0.04, 0, 0, 0, 0, 0, 0, 0, 0,
  0, 0, 0, 0, 0, 0, 0, 0];

type Series = number[] | null;
interface PanelSpec {
  title: string;
  left: number;
  top: number;
  height: number;
  titleY: number;
  yMin: number;
  yMax: number;
  yTicks: number[];
  series: Series[];
}

const PANELS: PanelSpec[] = [
  { title: "GDPR", left: 29, top: 15, height: 137, titleY: 10, yMin: -0.113, yMax: 0.37, yTicks: GDPR_TICKS,
    series: [GDPR_C1, GDPR_C2, GDPR_C3, GDPR_C4, null, GDPR_C6, GDPR_C7, GDPR_C8] },
  { title: "GDPD", left: 389, top: 15, height: 137, titleY: 10, yMin: -0.527, yMax: 1.335, yTicks: GDPD_TICKS,
    series: [GDPD_C1, GDPD_C2, GDPD_C3, GDPD_C4, null, GDPD_C6, GDPD_C7, GDPD_C8] },
  { title: "CREDIT/GDP", left: 751, top: 15, height: 137, titleY: 10, yMin: -22, yMax: 44.5, yTicks: CREDIT_TICKS,
    series: [CREDIT_C1, CREDIT_C2, CREDIT_C3, CREDIT_C4, CREDIT_C5, CREDIT_C6, CREDIT_C7, CREDIT_C8] },
  { title: "CAPIN/GDP", left: 29, top: 205, height: 136, titleY: 198.5, yMin: -23.3, yMax: 27.7, yTicks: CAPIN_TICKS,
    series: [CAPIN_C1, CAPIN_C2, null, CAPIN_C4, null, CAPIN_C6, CAPIN_C7, CAPIN_C8] },
  { title: "STR", left: 389, top: 205, height: 136, titleY: 198.5, yMin: -17.36, yMax: 12.6, yTicks: STR_TICKS,
    series: [STR_C1, STR_C2, STR_C3, STR_C4, STR_C5, STR_C6, STR_C7, STR_C8] },
  { title: "SP", left: 751, top: 205, height: 136, titleY: 198.5, yMin: -2.98, yMax: 3.33, yTicks: SP_TICKS,
    series: [SP_C1, SP_C2, null, SP_C4, SP_C5, SP_C6, SP_C7, SP_C8] },
  { title: "REER", left: 29, top: 395, height: 137, titleY: 387.5, yMin: -3.48, yMax: 3.85, yTicks: REER_TICKS,
    series: [REER_C1, REER_C2, REER_C3, REER_C4, null, REER_C6, REER_C7, REER_C8] },
];

const PLOT_W = 274;
const Y_AXIS_W = 40;
const TOP_PAD = 18;
const X_AXIS_H = 24;
const RIGHT_PAD = 2;

const decorPlugin = {
  id: "decor",
  afterDatasetsDraw(chart: any) {
    const { ctx, chartArea: a, scales } = chart;
    const x = scales.x;
    const y = scales.y;
    ctx.save();
    ctx.beginPath();
    ctx.strokeStyle = AXIS_GREY;
    ctx.lineWidth = 1;
    x.ticks.forEach((t: any) => {
      const px = Math.round(x.getPixelForValue(t.value)) + 0.5;
      ctx.moveTo(px, a.bottom);
      ctx.lineTo(px, a.bottom - 3);
    });
    y.ticks.forEach((t: any) => {
      const py = Math.round(y.getPixelForValue(t.value)) + 0.5;
      ctx.moveTo(a.left, py);
      ctx.lineTo(a.left + 3, py);
    });
    ctx.stroke();
    const y0 = Math.round(y.getPixelForValue(0)) + 0.5;
    ctx.beginPath();
    ctx.strokeStyle = "#000000";
    ctx.lineWidth = 1;
    ctx.moveTo(a.left, y0);
    ctx.lineTo(a.right, y0);
    ctx.stroke();
    ctx.restore();
  },
};

function HistPanel({ spec }: { spec: PanelSpec }) {
  const ref = useRef<HTMLCanvasElement | null>(null);
  const cw = Y_AXIS_W + PLOT_W + RIGHT_PAD;
  const ch = TOP_PAD + spec.height + X_AXIS_H;

  useEffect(() => {
    if (!ref.current) return;
    const datasets: any[] = [];
    spec.series.forEach((vals, k) => {
      if (!vals) return;
      datasets.push({
        label: `shock ${k + 1}`,
        data: vals.map((v, i) => ({ x: QUARTER_X[i], y: v })),
        backgroundColor: SHOCK_COLORS[k],
        borderColor: "#000000",
        borderWidth: 0.8,
        borderSkipped: false,
        barPercentage: 0.88,
        categoryPercentage: 1,
        stack: "hd",
      });
    });
    const tickFont = { family: SERIF, size: 10 };
    const chart = new Chart(ref.current, {
      type: "bar",
      data: { datasets },
      options: {
        animation: false,
        responsive: false,
        devicePixelRatio: 1,
        events: [],
        layout: { padding: { top: TOP_PAD, right: RIGHT_PAD, left: 0, bottom: 0 } },
        plugins: { legend: { display: false }, tooltip: { enabled: false }, title: { display: false } },
        scales: {
          x: {
            type: "linear",
            min: X_MIN,
            max: X_MAX,
            stacked: true,
            offset: false,
            grid: { display: false, drawTicks: false },
            border: { display: true, color: AXIS_GREY, width: 1 },
            ticks: { font: tickFont, color: TICK_TEXT, padding: 4, maxRotation: 0, autoSkip: false,
              callback: (v: any) => String(v) },
            afterBuildTicks: (axis: any) => { axis.ticks = YEAR_TICKS.map((v) => ({ value: v })); },
            afterFit: (axis: any) => { axis.height = X_AXIS_H; },
          },
          y: {
            type: "linear",
            min: spec.yMin,
            max: spec.yMax,
            stacked: true,
            grid: { display: false, drawTicks: false },
            border: { display: true, color: AXIS_GREY, width: 1 },
            ticks: { font: tickFont, color: TICK_TEXT, padding: 5, autoSkip: false,
              callback: (v: any) => String(v) },
            afterBuildTicks: (axis: any) => { axis.ticks = spec.yTicks.map((v) => ({ value: v })); },
            afterFit: (axis: any) => { axis.width = Y_AXIS_W; },
          },
        },
      } as any,
      plugins: [decorPlugin],
    } as any);
    return () => chart.destroy();
  }, [spec]);

  return (
    <>
      <canvas
        ref={ref}
        width={cw}
        height={ch}
        style={{ position: "absolute", left: spec.left - Y_AXIS_W, top: spec.top - TOP_PAD, width: cw, height: ch }}
      />
      <div
        style={{
          position: "absolute",
          left: spec.left,
          width: PLOT_W,
          top: spec.titleY - 7,
          height: 14,
          lineHeight: "14px",
          textAlign: "center",
          fontFamily: SERIF,
          fontWeight: "bold",
          fontSize: 12,
          color: "#111",
          whiteSpace: "nowrap",
        }}
      >
        {spec.title}
      </div>
    </>
  );
}

export default function App() {
  return (
    <div
      style={{
        position: "fixed",
        left: 0,
        top: 0,
        width: 1017,
        height: 551,
        background: "#ffffff",
        overflow: "hidden",
      }}
    >
      {PANELS.map((p) => (
        <HistPanel key={p.title} spec={p} />
      ))}
    </div>
  );
}
